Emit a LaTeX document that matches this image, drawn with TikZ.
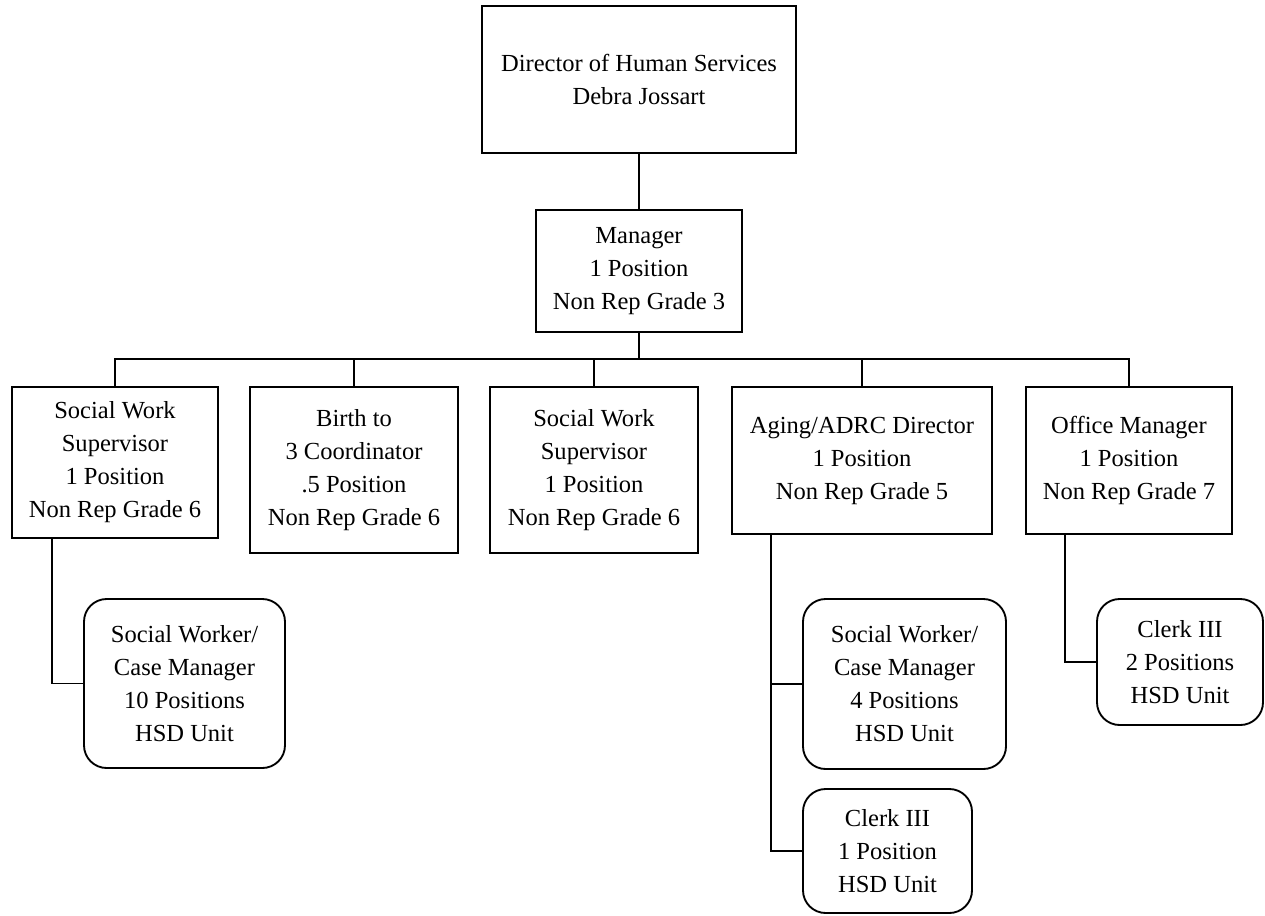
\documentclass[tikz,border=0pt]{standalone}
\usepackage{fontspec}
\setmainfont{Liberation Serif}
\begin{document}
\begin{tikzpicture}[x=0.75pt,y=-0.75pt,
  every node/.style={font=\fontsize{18.4pt}{24.75pt}\selectfont, align=center, inner sep=0pt},
  box/.style={draw, line width=1.4pt},
  unitbox/.style={draw, line width=1.4pt, rounded corners=17pt},
  link/.style={line width=1.2pt}]
\useasboundingbox (0,0) rectangle (1265,915);

% top of the chart
\node[box, minimum width=235.5pt, minimum height=110.25pt] (dir) at (639,79.5)
  {Director of Human Services\\Debra Jossart};
\node[box, minimum width=154.5pt, minimum height=91.5pt] (mgr) at (639,271)
  {Manager\\1 Position\\Non Rep Grade 3};

% second row
\node[box, minimum width=154.5pt, minimum height=113.25pt] (sws1) at (115,462.5)
  {Social Work\\Supervisor\\1 Position\\Non Rep Grade 6};
\node[box, minimum width=156pt, minimum height=124.5pt] (birth) at (354,470)
  {Birth to\\3 Coordinator\\.5 Position\\Non Rep Grade 6};
\node[box, minimum width=156pt, minimum height=124.5pt] (sws2) at (594,470)
  {Social Work\\Supervisor\\1 Position\\Non Rep Grade 6};
\node[box, minimum width=195pt, minimum height=110.25pt] (aging) at (862,460.5)
  {Aging/ADRC Director\\1 Position\\Non Rep Grade 5};
\node[box, minimum width=154.5pt, minimum height=110.25pt] (office) at (1129,460.5)
  {Office Manager\\1 Position\\Non Rep Grade 7};

% staff units
\node[unitbox, minimum width=150.75pt, minimum height=126.75pt] (sw10) at (184.5,683.5)
  {Social Worker/\\Case Manager\\10 Positions\\HSD Unit};
\node[unitbox, minimum width=152.25pt, minimum height=127.5pt] (sw4) at (904.5,684)
  {Social Worker/\\Case Manager\\4 Positions\\HSD Unit};
\node[unitbox, minimum width=126.75pt, minimum height=93pt] (clerk1) at (887.5,851)
  {Clerk III\\1 Position\\HSD Unit};
\node[unitbox, minimum width=124.5pt, minimum height=94.5pt] (clerk2) at (1180,662)
  {Clerk III\\2 Positions\\HSD Unit};

% reporting lines
\coordinate (bus) at (639,359);
\draw[link] (dir.south) -- (mgr.north);
\draw[link] (mgr.south) -- (bus);
\draw[link] (sws1.north) -- (sws1.north |- bus) -- (office.north |- bus) -- (office.north);
\draw[link] (birth.north) -- (birth.north |- bus);
\draw[link] (sws2.north) -- (sws2.north |- bus);
\draw[link] (aging.north) -- (aging.north |- bus);

\coordinate (sws1foot) at ([xshift=30.75pt]sws1.south west);
\coordinate (agingfoot) at ([xshift=30pt]aging.south west);
\coordinate (officefoot) at ([xshift=30pt]office.south west);
\draw[link] (sws1foot) |- (sw10.west);
\draw[link] (agingfoot) |- (clerk1.west);
\draw[link] (agingfoot |- sw4.west) -- (sw4.west);
\draw[link] (officefoot) |- (clerk2.west);
\end{tikzpicture}
\end{document}
